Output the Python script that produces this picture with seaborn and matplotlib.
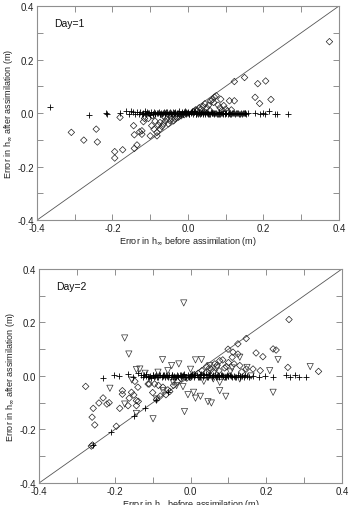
import matplotlib
matplotlib.use("Agg")
import matplotlib.pyplot as plt
import seaborn as sns
import pandas as pd
from matplotlib.ticker import MultipleLocator, FormatStrFormatter

sns.set_theme(style="white")
plt.rcParams['font.family'] = ['Liberation Sans', 'DejaVu Sans']
plt.rcParams['axes.unicode_minus'] = False

# ---------------- Day 1 data ----------------
d1_plus_x = [-0.366, -0.263, -0.216, -0.215, -0.18, -0.165, -0.155, -0.15,
             -0.145, -0.14, -0.135, -0.13, -0.127, -0.122, -0.118, -0.113, -0.11, -0.105,
             -0.1, -0.097, -0.093, -0.09, -0.086, -0.082, -0.078, -0.075, -0.071, -0.068,
             -0.064, -0.06, -0.057, -0.053, -0.05, -0.046, -0.043, -0.04, -0.036, -0.033,
             -0.03, -0.026, -0.023, -0.02, -0.017, -0.014, -0.011, -0.008, -0.005, -0.002,
             0.001, 0.004, 0.007, 0.01, 0.013, 0.016, 0.019, 0.022, 0.025, 0.028, 0.031,
             0.034, 0.037, 0.04, 0.043, 0.046, 0.05, 0.053, 0.056, 0.06, 0.063, 0.067,
             0.07, 0.074, 0.078, 0.082, 0.086, 0.09, 0.094, 0.098, 0.102, 0.106, 0.11,
             0.115, 0.12, 0.125, 0.13, 0.135, 0.14, 0.145, 0.15, 0.155, 0.16,
             -0.12, -0.108, -0.092, -0.08, -0.066, -0.055, -0.045, -0.035, -0.025, -0.015,
             -0.006, 0.003, 0.012, 0.021, 0.03, 0.039, 0.048, 0.058, 0.068, 0.079, 0.088,
             0.097, 0.108, 0.118, 0.128, 0.138, 0.148,
             -0.115, -0.102, -0.088, -0.073, -0.062, -0.048, -0.038, -0.028, -0.019, -0.009,
             0.0, 0.008, 0.017, 0.026, 0.035, 0.044, 0.054, 0.064, 0.073, 0.083, 0.092,
             0.101, 0.112, 0.122, 0.132, 0.142, 0.152,
             0.178, 0.19, 0.2, 0.205, 0.215, 0.232, 0.235, 0.266]
d1_plus_y = [0.021, -0.006, 0.0, -0.004, 0.0, 0.008, -0.003, 0.006,
             0.003, -0.004, 0.005, -0.002, 0.004, -0.005, 0.002, 0.006, -0.003, 0.001,
             -0.006, 0.004, -0.002, 0.003, -0.005, 0.002, 0.005, -0.003, 0.001, -0.004,
             0.003, -0.002, 0.004, -0.005, 0.002, 0.0, -0.003, 0.005, -0.001, 0.003,
             -0.004, 0.002, 0.006, -0.002, 0.004, -0.005, 0.003, 0.007, -0.003, 0.002,
             0.005, -0.004, 0.003, 0.008, -0.002, 0.004, 0.006, -0.003, 0.002, 0.005,
             -0.004, 0.001, 0.004, -0.002, 0.003, -0.005, 0.002, 0.0, -0.003, 0.003,
             -0.001, 0.002, -0.004, 0.001, -0.002, 0.003, -0.003, 0.0, -0.004, 0.002,
             -0.001, -0.003, 0.001, -0.002, 0.0, -0.003, 0.001, -0.002, 0.0, -0.001,
             0.001, -0.002, 0.0,
             -0.002, 0.003, -0.004, 0.002, -0.001, 0.004, -0.003, 0.002, -0.005, 0.001,
             0.003, -0.002, 0.005, -0.004, 0.002, -0.001, 0.003, -0.003, 0.0, -0.002,
             0.001, -0.004, 0.002, -0.001, 0.0, -0.002, 0.001,
             0.001, -0.001, 0.002, -0.002, 0.0, 0.003, -0.001, 0.001, -0.003, 0.002,
             -0.001, 0.001, 0.003, -0.002, 0.001, 0.002, -0.002, 0.0, 0.001, -0.002,
             0.0, -0.001, -0.002, 0.0, -0.001, -0.002, 0.0,
             0.0, -0.003, 0.0, -0.005, 0.006, -0.002, -0.004, -0.002]

d1_dia_x = [0.375, 0.123, 0.15, 0.206, 0.185, 0.22, 0.19, 0.178, 0.11, 0.123, 0.087,
            0.075, 0.07, 0.068, 0.08, 0.095, 0.1, 0.09, 0.06, 0.055, 0.05, 0.045, 0.04,
            0.035, 0.03, 0.025, 0.065, 0.085, 0.105, 0.115, 0.02, 0.015, 0.058,
            -0.309, -0.276, -0.24, -0.243, -0.194, -0.194, -0.173, -0.18, -0.142, -0.135,
            -0.144, -0.142, -0.122, -0.122, -0.118, -0.1, -0.096, -0.09, -0.082, -0.082,
            -0.074, -0.074, -0.065, -0.056, -0.047, -0.038, -0.03, -0.087, -0.078,
            -0.069, -0.06, -0.052, -0.043, -0.034, -0.025, -0.018, -0.01, -0.062, -0.105,
            -0.128, -0.115, -0.093]
d1_dia_y = [0.267, 0.118, 0.133, 0.12, 0.11, 0.051, 0.036, 0.059, 0.046, 0.046, 0.052,
            0.065, 0.06, 0.04, 0.03, 0.028, 0.015, 0.01, 0.045, 0.03, 0.02, 0.035, 0.025,
            0.015, 0.02, 0.01, 0.05, 0.02, 0.008, 0.012, 0.012, 0.006, 0.01,
            -0.072, -0.101, -0.108, -0.06, -0.144, -0.168, -0.137, -0.016, -0.132, -0.119,
            -0.047, -0.081, -0.066, -0.079, -0.032, -0.085, -0.047, -0.06, -0.072, -0.085,
            -0.06, -0.035, -0.041, -0.022, -0.029, -0.029, -0.016, -0.03, -0.045,
            -0.05, -0.03, -0.04, -0.02, -0.02, -0.015, -0.01, -0.006, -0.015, -0.02,
            -0.07, -0.02, -0.01]

# ---------------- Day 2 data ----------------
d2_plus_x = [-0.231, -0.202, -0.19, -0.165, -0.152, -0.14,
             -0.13, -0.126, -0.122, -0.117, -0.113, -0.108, -0.104, -0.1, -0.096, -0.092,
             -0.088, -0.084, -0.08, -0.076, -0.072, -0.068, -0.064, -0.06, -0.056, -0.052,
             -0.048, -0.044, -0.04, -0.036, -0.032, -0.028, -0.024, -0.02, -0.016, -0.012,
             -0.008, -0.004, 0.0, 0.004, 0.008, 0.012, 0.016, 0.02, 0.024, 0.028, 0.032,
             0.036, 0.04, 0.044, 0.048, 0.052, 0.056, 0.06, 0.064, 0.068, 0.072, 0.076,
             0.08, 0.085, 0.09, 0.095, 0.1, 0.105, 0.11, 0.115, 0.12, 0.125, 0.13, 0.135,
             0.14, 0.145, 0.15, 0.155,
             -0.11, -0.098, -0.086, -0.074, -0.062, -0.05, -0.038, -0.026, -0.014, -0.002,
             0.01, 0.022, 0.034, 0.046, 0.058, 0.07, 0.082, 0.094, 0.106, 0.118, 0.13,
             -0.118, -0.094, -0.07, -0.046, -0.022, 0.002, 0.026, 0.05, 0.074, 0.098,
             0.165, 0.18, 0.196, 0.218, 0.253, 0.262, 0.275, 0.286, 0.306,
             -0.258, -0.21, -0.15, -0.12, -0.09, -0.06]
d2_plus_y = [-0.006, 0.005, 0.0, 0.007, -0.004, 0.01,
             0.003, -0.005, 0.002, 0.006, -0.003, 0.001, -0.006, 0.004, -0.002, 0.003,
             -0.005, 0.002, 0.005, -0.003, 0.001, -0.004, 0.003, -0.002, 0.004, -0.005,
             0.002, 0.0, -0.003, 0.005, -0.001, 0.003, -0.004, 0.002, 0.006, -0.002,
             0.004, -0.005, 0.003, 0.007, -0.003, 0.002, 0.005, -0.004, 0.003, 0.008,
             -0.002, 0.004, 0.006, -0.003, 0.002, 0.005, -0.004, 0.001, 0.004, -0.002,
             0.003, -0.005, 0.002, 0.0, -0.003, 0.003, -0.001, 0.002, -0.004, 0.001,
             -0.002, 0.003, -0.003, 0.0, -0.004, 0.002, -0.001, -0.003,
             -0.002, 0.003, -0.004, 0.002, -0.001, 0.004, -0.003, 0.002, -0.005, 0.001,
             0.003, -0.002, 0.005, -0.004, 0.002, -0.001, 0.003, -0.003, 0.0, -0.002,
             0.001,
             0.001, -0.001, 0.002, -0.002, 0.0, 0.001, -0.002, 0.002, -0.001, 0.0,
             0.0, -0.003, 0.0, -0.002, 0.005, -0.002, 0.003, -0.002, -0.002,
             -0.258, -0.21, -0.15, -0.12, -0.09, -0.06]

d2_dia_x = [-0.277, -0.257, -0.26, -0.253, -0.259, -0.262, -0.242, -0.231, -0.221,
            -0.215, -0.196, -0.187, -0.18, -0.18, -0.165, -0.162, -0.156, -0.15, -0.143,
            -0.143, -0.138, -0.147, -0.139, -0.112, -0.109, -0.095, -0.085, -0.073,
            -0.06, -0.055, -0.065, -0.08, -0.09, -0.1, -0.045, -0.035, -0.025,
            0.042, 0.064, 0.077, 0.099, 0.112, 0.125, 0.125, 0.147, 0.13, 0.147, 0.165,
            0.173, 0.184, 0.191, 0.218, 0.226, 0.26, 0.257, 0.338, 0.03, 0.05, 0.06,
            0.07, 0.085, 0.09, 0.1, 0.11, 0.02, 0.04, 0.055, 0.075, 0.095, 0.115, 0.135,
            0.01, 0.0, -0.01]
d2_dia_y = [-0.039, -0.121, -0.154, -0.183, -0.258, -0.262, -0.101, -0.082, -0.105,
            -0.1, -0.188, -0.121, -0.055, -0.068, -0.111, -0.083, -0.061, -0.071, -0.111,
            -0.092, -0.095, -0.02, -0.042, -0.03, -0.03, -0.03, -0.035, -0.042,
            -0.052, -0.058, -0.07, -0.075, -0.088, -0.062, -0.035, -0.02, -0.01,
            0.035, 0.045, 0.057, 0.1, 0.089, 0.082, 0.12, 0.14, 0.039, 0.026, 0.026,
            0.086, 0.02, 0.072, 0.101, 0.097, 0.211, 0.032, 0.017, 0.02, 0.03, 0.015,
            0.04, 0.06, 0.03, 0.05, 0.07, 0.01, 0.012, 0.025, 0.02, 0.035, 0.045, 0.015,
            0.005, -0.005, -0.008]

d2_tri_x = [-0.018, -0.174, -0.163, -0.074, -0.031, -0.05, 0.013, 0.029, 0.051,
            -0.213, -0.174, -0.143, -0.099, -0.016, -0.007, 0.008, 0.026, 0.013, 0.046,
            0.055, 0.077, 0.093, 0.13, 0.149, 0.209, 0.218, 0.231, 0.316, -0.143,
            -0.134, -0.086, -0.046, -0.037, -0.073, -0.09, 0.06, 0.077, 0.13, 0.16,
            -0.155, -0.12, -0.06, 0.0, 0.035, 0.07, 0.105, -0.02, 0.09, 0.11]
d2_tri_y = [0.273, 0.142, 0.082, 0.061, 0.045, 0.039, 0.06, 0.061, 0.039,
            -0.046, -0.105, -0.14, -0.16, -0.133, -0.07, -0.061, -0.076, -0.083, -0.096,
            -0.101, -0.055, -0.076, 0.07, 0.032, 0.02, -0.061, 0.061, 0.035, 0.024,
            0.026, 0.014, -0.024, -0.036, -0.055, -0.086, -0.011, -0.024, -0.011, 0.0,
            -0.015, 0.01, 0.02, 0.025, -0.02, 0.03, 0.015, -0.04, -0.005, 0.03]

tick_vals = [-0.4, -0.2, 0.0, 0.2, 0.4]
xlabel = "Error in h$_{\\infty}$ before assimilation (m)"
ylabel = "Error in h$_{\\infty}$ after assimilation (m)"
day_labels = ["Day=1", "Day=2"]

frame_col = "#8f8f8f"

fig = plt.figure(figsize=(3.49, 5.06), dpi=100)
ax1 = fig.add_axes([0.106, 0.563, 0.865, 0.423])
ax2 = fig.add_axes([0.112, 0.0435, 0.868, 0.423])

def style_axes(ax, label):
    ax.set_xlim(-0.4, 0.4)
    ax.set_ylim(-0.4, 0.4)
    ax.axline((0, 0), slope=1, color="#555555", lw=0.6, zorder=1)
    ax.xaxis.set_major_locator(MultipleLocator(0.2))
    ax.yaxis.set_major_locator(MultipleLocator(0.2))
    ax.xaxis.set_minor_locator(MultipleLocator(0.1))
    ax.yaxis.set_minor_locator(MultipleLocator(0.1))
    ax.xaxis.set_major_formatter(FormatStrFormatter('%.1f'))
    ax.yaxis.set_major_formatter(FormatStrFormatter('%.1f'))
    ax.tick_params(which='both', direction='in', top=True, right=True,
                   bottom=True, left=True, color=frame_col, width=0.7,
                   labelsize=7, pad=2, labelcolor="#222222")
    ax.tick_params(which='major', length=4)
    ax.tick_params(which='minor', length=4)
    for s in ax.spines.values():
        s.set_color(frame_col)
        s.set_linewidth(0.8)
    ax.set_xlabel(xlabel, fontsize=6.5, labelpad=1, color="#222222")
    ax.set_ylabel(ylabel, fontsize=6.5, labelpad=2, color="#222222")
    ax.text(-0.355, 0.335, label, fontsize=7.5, ha='left', va='center', color="#111111")

# Day 1
sns.scatterplot(x=d1_plus_x, y=d1_plus_y, marker='+', color='black', s=22,
                linewidths=0.6, ax=ax1, legend=False, zorder=3)
sns.scatterplot(x=d1_dia_x, y=d1_dia_y, marker='D', facecolor='none', edgecolor='#222222',
                s=11, linewidths=0.5, ax=ax1, legend=False, zorder=2)
style_axes(ax1, day_labels[0])

# Day 2
sns.scatterplot(x=d2_plus_x, y=d2_plus_y, marker='+', color='black', s=22,
                linewidths=0.6, ax=ax2, legend=False, zorder=3)
sns.scatterplot(x=d2_dia_x, y=d2_dia_y, marker='D', facecolor='none', edgecolor='#222222',
                s=11, linewidths=0.5, ax=ax2, legend=False, zorder=2)
sns.scatterplot(x=d2_tri_x, y=d2_tri_y, marker='v', facecolor='none', edgecolor='#333333',
                s=20, linewidths=0.5, ax=ax2, legend=False, zorder=2)
style_axes(ax2, day_labels[1])

fig.savefig("out.png", dpi=100)
